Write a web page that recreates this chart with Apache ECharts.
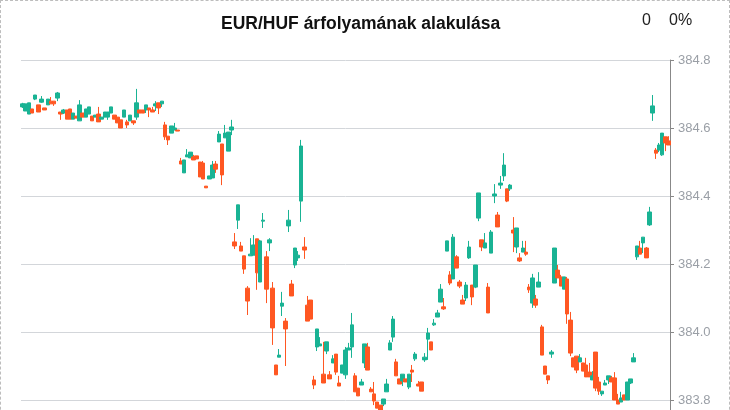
<!DOCTYPE html>
<html>
<head>
<meta charset="utf-8">
<script src="https://cdn.jsdelivr.net/npm/echarts@6/dist/echarts.min.js"></script>
<style>
  html, body { margin: 0; padding: 0; background: #fff; }
  .frame {
    width: 730px;
    height: 480px;
    box-sizing: border-box;
    border: 1px dashed #bdbdbd;
  }
  #chart { width: 728px; height: 478px; }
</style>
</head>
<body>
<div class="frame"><div id="chart"></div></div>
<script>
const titleText = 'EUR/HUF árfolyamának alakulása';
const changeAbs = '0';
const changePct = '0%';

const openPrices = [
  384.662, 384.650, 384.641, 384.656, 384.685, 384.668, 384.676, 384.659, 384.668, 384.679,
  384.679, 384.688, 384.647, 384.644, 384.653, 384.656, 384.626, 384.635, 384.621, 384.644,
  384.632, 384.641, 384.635, 384.632, 384.641, 384.626, 384.632, 384.632, 384.644, 384.638,
  384.632, 384.624, 384.632, 384.618, 384.621, 384.621, 384.632, 384.653, 384.653, 384.653,
  384.659, 384.653, 384.665, 384.674, 384.671, 384.609, 384.576, 384.585, 384.594, 384.594,
  384.503, 384.468, 384.515, 384.512, 384.515, 384.518, 384.500, 384.497, 384.429, 384.450,
  384.453, 384.494, 384.559, 384.553, 384.571, 384.532, 384.594, 384.265, 384.329, 384.253,
  384.224, 384.129, 384.224, 384.226, 384.274, 384.147, 384.326, 384.221, 384.262, 384.129,
  383.903, 383.926, 384.076, 384.032, 384.312, 384.141, 384.197, 384.218, 384.385, 384.250,
  384.079, 384.094, 383.859, 383.956, 383.959, 383.876, 383.944, 383.874, 383.909, 383.935,
  383.850, 383.879, 383.874, 383.947, 383.956, 383.871, 383.835, 383.844, 383.909, 383.956,
  383.832, 383.818, 383.794, 383.785, 383.788, 383.824, 383.947, 383.985, 383.912, 383.862,
  383.856, 383.862, 383.838, 383.888, 383.921, 383.847, 383.853, 383.918, 383.979, 383.971,
  384.021, 384.044, 384.088, 384.074, 384.238, 384.168, 384.156, 384.221, 384.147, 384.094,
  384.100, 384.218, 384.138, 384.132, 384.335, 384.271, 384.247, 384.132, 384.232, 384.400,
  384.344, 384.432, 384.459, 384.421, 384.421, 384.300, 384.250, 384.218, 384.235, 384.235,
  384.132, 384.085, 384.097, 384.132, 384.015, 383.900, 383.871, 383.935, 384.144, 384.182,
  384.162, 384.126, 384.156, 384.035, 383.924, 383.929, 383.912, 383.909, 383.903, 383.882,
  383.859, 383.941, 383.853, 383.818, 383.844, 383.859, 383.865, 383.865, 383.800, 383.794,
  383.815, 383.800, 383.850, 383.912, 384.221, 384.247, 384.262, 384.247, 384.315, 384.644,
  384.535, 384.535, 384.521, 384.574, 384.562
];

const closePrices = [
  384.671, 384.671, 384.674, 384.644, 384.697, 384.647, 384.685, 384.653, 384.685, 384.671,
  384.671, 384.703, 384.641, 384.653, 384.626, 384.626, 384.644, 384.629, 384.668, 384.632,
  384.656, 384.662, 384.621, 384.638, 384.618, 384.632, 384.647, 384.647, 384.662, 384.626,
  384.615, 384.600, 384.653, 384.609, 384.638, 384.615, 384.674, 384.644, 384.644, 384.668,
  384.653, 384.647, 384.671, 384.659, 384.679, 384.574, 384.565, 384.606, 384.600, 384.591,
  384.494, 384.506, 384.521, 384.529, 384.506, 384.509, 384.456, 384.450, 384.424, 384.459,
  384.491, 384.479, 384.582, 384.462, 384.585, 384.588, 384.603, 384.253, 384.374, 384.238,
  384.185, 384.091, 384.229, 384.256, 384.174, 384.268, 384.329, 384.126, 384.271, 384.012,
  383.874, 383.932, 384.085, 384.009, 384.329, 384.106, 384.247, 384.226, 384.547, 384.241,
  384.032, 384.038, 383.844, 384.009, 383.965, 383.850, 383.971, 383.862, 383.921, 383.882,
  383.841, 383.903, 383.947, 383.953, 384.021, 383.824, 383.812, 383.853, 383.965, 383.888,
  383.824, 383.797, 383.776, 383.765, 383.803, 383.847, 383.968, 384.038, 383.871, 383.847,
  383.876, 383.853, 383.876, 383.882, 383.935, 383.841, 383.826, 383.926, 383.997, 383.947,
  384.026, 384.056, 384.126, 384.068, 384.268, 384.144, 384.279, 384.188, 384.135, 384.082,
  384.138, 384.250, 384.103, 384.197, 384.409, 384.250, 384.262, 384.056, 384.294, 384.406,
  384.309, 384.438, 384.491, 384.385, 384.432, 384.291, 384.306, 384.209, 384.247, 384.229,
  384.124, 384.159, 384.079, 384.147, 383.932, 383.876, 383.859, 383.941, 384.247, 384.159,
  384.135, 384.162, 384.053, 383.938, 383.897, 383.888, 383.924, 383.885, 383.868, 383.868,
  383.871, 383.835, 383.826, 383.826, 383.850, 383.871, 383.853, 383.800, 383.788, 383.806,
  383.800, 383.853, 383.862, 383.924, 384.253, 384.229, 384.279, 384.218, 384.353, 384.665,
  384.526, 384.550, 384.585, 384.556, 384.550
];

const lowPrices = [
  384.659, 384.650, 384.641, 384.644, 384.682, 384.647, 384.674, 384.653, 384.668, 384.671,
  384.665, 384.679, 384.624, 384.641, 384.626, 384.626, 384.626, 384.629, 384.621, 384.632,
  384.632, 384.641, 384.621, 384.632, 384.618, 384.626, 384.632, 384.624, 384.644, 384.626,
  384.615, 384.600, 384.632, 384.600, 384.621, 384.609, 384.624, 384.644, 384.644, 384.644,
  384.632, 384.647, 384.650, 384.641, 384.662, 384.565, 384.550, 384.585, 384.594, 384.591,
  384.494, 384.468, 384.515, 384.512, 384.506, 384.509, 384.456, 384.450, 384.424, 384.450,
  384.453, 384.468, 384.559, 384.432, 384.571, 384.532, 384.579, 384.244, 384.303, 384.238,
  384.171, 384.050, 384.224, 384.226, 384.124, 384.147, 384.306, 384.085, 384.238, 383.962,
  383.874, 383.926, 384.047, 383.900, 384.294, 384.106, 384.188, 384.209, 384.324, 384.215,
  384.032, 384.038, 383.832, 383.944, 383.959, 383.850, 383.935, 383.862, 383.909, 383.874,
  383.841, 383.879, 383.862, 383.947, 383.924, 383.824, 383.812, 383.844, 383.894, 383.888,
  383.824, 383.785, 383.776, 383.765, 383.782, 383.824, 383.947, 383.971, 383.871, 383.847,
  383.841, 383.853, 383.832, 383.853, 383.915, 383.841, 383.826, 383.912, 383.918, 383.947,
  384.018, 384.044, 384.088, 384.065, 384.238, 384.138, 384.156, 384.188, 384.129, 384.082,
  384.091, 384.215, 384.079, 384.129, 384.326, 384.238, 384.247, 384.056, 384.232, 384.379,
  384.309, 384.421, 384.444, 384.382, 384.415, 384.235, 384.232, 384.206, 384.235, 384.224,
  384.115, 384.071, 384.071, 384.132, 383.932, 383.876, 383.847, 383.924, 384.144, 384.159,
  384.135, 384.126, 384.024, 383.929, 383.897, 383.879, 383.912, 383.885, 383.868, 383.868,
  383.859, 383.826, 383.815, 383.812, 383.844, 383.847, 383.853, 383.800, 383.788, 383.794,
  383.800, 383.800, 383.847, 383.912, 384.212, 384.229, 384.232, 384.218, 384.312, 384.621,
  384.509, 384.529, 384.518, 384.532, 384.550
];

const highPrices = [
  384.674, 384.671, 384.674, 384.656, 384.697, 384.668, 384.694, 384.659, 384.685, 384.691,
  384.679, 384.706, 384.647, 384.656, 384.653, 384.656, 384.644, 384.635, 384.682, 384.644,
  384.656, 384.662, 384.635, 384.638, 384.662, 384.632, 384.647, 384.647, 384.662, 384.638,
  384.632, 384.624, 384.653, 384.624, 384.638, 384.621, 384.715, 384.653, 384.653, 384.668,
  384.659, 384.662, 384.679, 384.674, 384.679, 384.618, 384.576, 384.606, 384.615, 384.594,
  384.512, 384.506, 384.538, 384.529, 384.521, 384.518, 384.500, 384.503, 384.429, 384.459,
  384.503, 384.503, 384.591, 384.553, 384.609, 384.588, 384.624, 384.291, 384.374, 384.265,
  384.224, 384.135, 384.276, 384.285, 384.274, 384.271, 384.350, 384.238, 384.276, 384.147,
  383.903, 383.950, 384.118, 384.041, 384.359, 384.153, 384.247, 384.238, 384.565, 384.279,
  384.106, 384.094, 383.871, 384.009, 383.985, 383.971, 383.971, 383.885, 383.932, 383.935,
  383.871, 383.903, 383.956, 383.968, 384.056, 383.879, 383.835, 383.862, 383.965, 383.968,
  383.838, 383.853, 383.794, 383.785, 383.803, 383.862, 383.976, 384.047, 383.921, 383.862,
  383.876, 383.862, 383.876, 383.903, 383.941, 383.856, 383.853, 383.938, 384.012, 383.971,
  384.038, 384.065, 384.141, 384.100, 384.268, 384.179, 384.288, 384.226, 384.153, 384.109,
  384.147, 384.268, 384.138, 384.197, 384.409, 384.271, 384.291, 384.144, 384.300, 384.435,
  384.353, 384.459, 384.526, 384.421, 384.435, 384.338, 384.306, 384.232, 384.268, 384.268,
  384.141, 384.171, 384.109, 384.176, 384.021, 383.900, 383.871, 383.947, 384.247, 384.197,
  384.168, 384.162, 384.162, 384.059, 383.924, 383.929, 383.935, 383.909, 383.924, 383.909,
  383.885, 383.941, 383.868, 383.826, 383.859, 383.871, 383.871, 383.882, 383.818, 383.824,
  383.815, 383.853, 383.862, 383.938, 384.253, 384.268, 384.279, 384.250, 384.368, 384.697,
  384.541, 384.556, 384.585, 384.574, 384.576
];

const categories = openPrices.map((_, i) => String(i + 1));
const yTicks = { min: 383.6, max: 384.8, interval: 0.2 };

const upColor = '#19b394';
const downColor = '#ff5722';

const candleData = openPrices.map((o, i) => [o, closePrices[i], lowPrices[i], highPrices[i]]);

const chart = echarts.init(document.getElementById('chart'));

chart.setOption({
  animation: false,
  title: {
    text: titleText,
    left: 215,
    top: 9,
    textStyle: {
      color: '#111',
      fontSize: 17.5,
      fontWeight: 'bold',
      fontFamily: 'Liberation Sans, Arial, sans-serif',
    },
  },
  graphic: [
    {
      type: 'text',
      left: 641,
      top: 12,
      style: { text: changeAbs, fill: '#222', fontSize: 16, fontFamily: 'Liberation Sans, Arial, sans-serif' },
    },
    {
      type: 'text',
      left: 668,
      top: 12,
      style: { text: changePct, fill: '#222', fontSize: 16, fontFamily: 'Liberation Sans, Arial, sans-serif' },
    },
  ],
  grid: {
    left: 20,
    right: 59,
    top: 59,
    height: 408,
  },
  xAxis: {
    type: 'category',
    data: categories,
    show: false,
    boundaryGap: true,
  },
  yAxis: {
    type: 'value',
    position: 'right',
    min: yTicks.min,
    max: yTicks.max,
    interval: yTicks.interval,
    scale: true,
    axisLine: { show: true, lineStyle: { color: '#888', width: 1 } },
    axisTick: { show: true, length: 4, lineStyle: { color: '#888' } },
    axisLabel: {
      color: '#9a9fa6',
      fontSize: 13,
      margin: 8,
      fontFamily: 'Liberation Sans, Arial, sans-serif',
      formatter: (v) => v.toFixed(1),
    },
    splitLine: { show: true, lineStyle: { color: '#d3d6da', width: 1 } },
  },
  series: [
    {
      type: 'candlestick',
      data: candleData,
      barWidth: 4,
      itemStyle: {
        color: upColor,
        color0: downColor,
        borderColor: upColor,
        borderColor0: downColor,
        borderWidth: 1,
      },
    },
  ],
});
</script>
</body>
</html>
